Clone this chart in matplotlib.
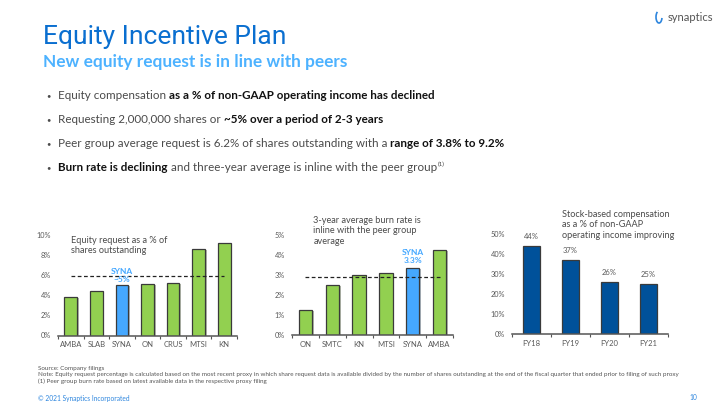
import numpy as np
import matplotlib
matplotlib.use("Agg")
import matplotlib.pyplot as plt
from matplotlib.ticker import PercentFormatter, FixedLocator
from matplotlib.patches import Arc
import matplotlib.patheffects as pe

# data
req_peers = ['AMBA', 'SLAB', 'SYNA', 'ON', 'CRUS', 'MTSI', 'KN']
req_pct = [3.8, 4.45, 5.0, 5.15, 5.2, 8.6, 9.2]
req_avg = 5.9

burn_peers = ['ON', 'SMTC', 'KN', 'MTSI', 'SYNA', 'AMBA']
burn_pct = [1.25, 2.5, 3.0, 3.1, 3.35, 4.25]
burn_avg = 2.9

sbc_years = ['FY18', 'FY19', 'FY20', 'FY21']
sbc_pct = [44, 37, 26, 25]

W, H = 720, 405
GREEN = '#92D050'
SYNA_BLUE = '#45A8FF'
DARK_BLUE = '#00519A'
GREY_TXT = '#4a4a4a'

plt.rcParams['font.family'] = ['Lato', 'DejaVu Sans']

fig = plt.figure(figsize=(7.2, 4.05), dpi=100)


def px(x, y):
    return x / W, 1 - y / H


def rect(x0, y0, x1, y1):
    # pixel box (top-left origin) -> axes rect
    return [x0 / W, 1 - y1 / H, (x1 - x0) / W, (y1 - y0) / H]


# header
fig.text(*px(43, 44), 'Equity Incentive Plan', fontsize=19, color='#0A6FD0',
         family=['Roboto', 'DejaVu Sans'], va='baseline')
fig.text(*px(43, 67), 'New equity request is in line with peers', fontsize=12.4,
         color='#4DB2FF', fontweight='bold', va='baseline')
fig.text(*px(713, 21), 'synaptics', fontsize=8, color='#555555', ha='right', va='baseline')
fig.patches.append(Arc(px(659, 17), 6 / W, 12 / H, theta1=100, theta2=330,
                       transform=fig.transFigure, color='#2E86DE', lw=1.2))

# bullet lines: list of (text, bold) pieces
bullets = [
    [('Equity compensation ', False), ('as a % of non-GAAP operating income has declined', True)],
    [('Requesting 2,000,000 shares or ', False), ('~5% over a period of 2-3 years', True)],
    [('Peer group average request is 6.2% of shares outstanding with a ', False),
     ('range of 3.8% to 9.2%', True)],
    [('Burn rate is declining', True), (' and three-year average is inline with the peer group', False)],
]
line_y = [99, 123, 147, 171]

renderer = fig.canvas.get_renderer()
for n, (parts, y) in enumerate(zip(bullets, line_y)):
    fig.text(*px(46, y - 3), '\u2022', fontsize=5.5, color=GREY_TXT, va='center')
    xcur = 58
    for txt, bold in parts:
        t = fig.text(*px(xcur, y), txt, fontsize=8.4, va='baseline',
                     color='#111111' if bold else GREY_TXT,
                     fontweight='bold' if bold else 'normal')
        xcur += t.get_window_extent(renderer).width
    if n == 3:
        fig.text(*px(xcur + 0.5, y - 4.5), '(1)', fontsize=4.6, color=GREY_TXT, va='baseline')


def panel(box, cats, vals, colors, ymax, step, width):
    ax = fig.add_axes(rect(*box))
    x = np.arange(len(cats))
    bars = ax.bar(x, vals, width=width, color=colors, edgecolor='#3a3a3a',
                  linewidth=0.9, zorder=2)
    for b in bars:
        b.set_path_effects([pe.SimplePatchShadow(offset=(1.2, -0.6), alpha=0.35),
                            pe.Normal()])
    ax.set_xlim(-0.5, len(cats) - 0.5)
    ax.set_ylim(0, ymax)
    ax.set_yticks(np.arange(0, ymax + step / 2, step))
    ax.yaxis.set_major_formatter(PercentFormatter(decimals=0))
    ax.set_xticks(x)
    ax.set_xticklabels(cats)
    ax.xaxis.set_minor_locator(FixedLocator(np.arange(-0.5, len(cats), 1.0)))
    for s in ['top', 'right', 'left']:
        ax.spines[s].set_visible(False)
    ax.spines['bottom'].set_color('#555555')
    ax.spines['bottom'].set_linewidth(1.1)
    ax.tick_params(axis='y', length=0, labelsize=5.3, labelcolor='#595959', pad=5)
    ax.tick_params(axis='x', which='major', length=0, labelsize=5.5,
                   labelcolor='#595959', pad=4)
    ax.tick_params(axis='x', which='minor', length=2.5, width=0.8, color='#555555')
    ax.patch.set_alpha(0)
    return ax


# panel 1: equity request
ax1 = panel((58, 235, 237, 335.5), req_peers, req_pct,
            [SYNA_BLUE if c == 'SYNA' else GREEN for c in req_peers], 10, 2, 0.5)
ax1.hlines(req_avg, 0, len(req_peers) - 1, colors='#222222', linewidth=0.9,
           linestyles=(0, (3, 2)), zorder=3)
si = req_peers.index('SYNA')
ax1.text(si, req_pct[si] + 0.25, 'SYNA\n~5%', ha='center', va='bottom', fontsize=6,
         fontweight='bold', color=SYNA_BLUE, linespacing=1.1, zorder=4)
ax1.text(0.0, 9.9, 'Equity request as a % of\nshares outstanding', ha='left', va='top',
         fontsize=6.6, color=GREY_TXT, linespacing=1.2)

# panel 2: burn rate
ax2 = panel((292, 235, 453, 335), burn_peers, burn_pct,
            [SYNA_BLUE if c == 'SYNA' else GREEN for c in burn_peers], 5, 1, 0.5)
ax2.hlines(burn_avg, 0, len(burn_peers) - 1 + 0.05, colors='#222222', linewidth=0.9,
           linestyles=(0, (3, 2)), zorder=3)
si = burn_peers.index('SYNA')
ax2.text(si, burn_pct[si] + 0.2, 'SYNA\n3.3%', ha='center', va='bottom', fontsize=6,
         fontweight='bold', color=SYNA_BLUE, linespacing=1.1, zorder=4)
ax2.text(0.3, 5.95, '3-year average burn rate is\ninline with the peer group\naverage',
         ha='left', va='top', fontsize=6.6, color=GREY_TXT, linespacing=1.2, clip_on=False)

# panel 3: SBC as % of non-GAAP operating income
ax3 = panel((512, 234, 668, 334), sbc_years, sbc_pct, [DARK_BLUE] * 4, 50, 10, 0.42)
for i, v in enumerate(sbc_pct):
    ax3.text(i, v + 3, f'{v:.0f}%', ha='center', va='bottom', fontsize=5.5, color='#595959')
ax3.text(0.78, 62, 'Stock-based compensation\nas a % of non-GAAP\noperating income improving',
         ha='left', va='top', fontsize=6.6, color=GREY_TXT, linespacing=1.2, clip_on=False)

# footer
foot = ('Source: Company filings\n'
        'Note: Equity request percentage is calculated based on the most recent proxy in which share '
        'request data is available divided by the number of shares outstanding at the end of the '
        'fiscal quarter that ended prior to filing of such proxy\n'
        '(1) Peer group burn rate based on latest available data in the respective proxy filing')
fig.text(*px(38, 366), foot, fontsize=4.5, color='#555555', va='top', linespacing=1.3)
fig.text(*px(38, 398), '\u00a9 2021 Synaptics Incorporated', fontsize=4.8, color='#2E86DE',
         va='center')
fig.text(*px(697, 398), '10', fontsize=4.8, color='#2E86DE', va='center', ha='right')

fig.savefig('out.png', dpi=100)
